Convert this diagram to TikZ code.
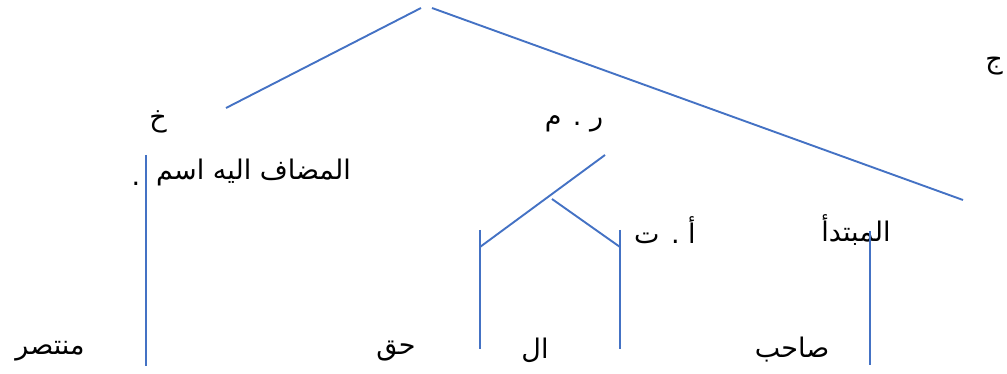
\documentclass[tikz,border=0pt]{standalone}
\usepackage{fontspec}
\TeXXeTstate=1
\newfontfamily\arabicfont[Script=Arabic]{DejaVu Sans}
\begin{document}
\begin{tikzpicture}[x=1pt,y=-1pt,
  branch/.style={draw={rgb,255:red,68;green,114;blue,196}, line width=1.9pt},
  word/.style={inner sep=0pt, font=\arabicfont\fontsize{27}{29}\selectfont}]
\useasboundingbox (0,0) rectangle (1007,374);
% text nodes
\node[word] (jim) at (994,66) {\beginR ج\endR};
\node[word] (kha) at (158,122) {\beginR خ\endR};
\node[word] (rm) at (574,124) {\beginR ر . م\endR};
\node[word, anchor=east] (mudaf) at (351,172) {\beginR المضاف اليه اسم\endR};
\node[word] (dot) at (136,184) {.};
\node[word] (at) at (665,230) {\beginR أ . ت\endR};
\node[word] (mubtada) at (856,230) {\beginR المبتدأ\endR};
\node[word] (muntasir) at (50,351) {\beginR منتصر\endR};
\node[word] (haqq) at (396,351) {\beginR حق\endR};
\node[word] (al) at (535,350) {\beginR ال\endR};
\node[word] (sahib) at (792,350) {\beginR صاحب\endR};
% connector end points
\coordinate (topL) at (421,8);
\coordinate (topR) at (432,8);
\coordinate (khaEnd) at (226,108);
\coordinate (jimEnd) at (963,200);
\coordinate (v1t) at (146,155);
\coordinate (v1b) at (146,366);
\coordinate (rmTop) at (605,155);
\coordinate (rmMid) at (552,199);
\coordinate (lJoin) at (480,247);
\coordinate (lTop) at (480,230);
\coordinate (lBot) at (480,349);
\coordinate (rJoin) at (620,247);
\coordinate (rTop) at (620,230);
\coordinate (rBot) at (620,349);
\coordinate (v4t) at (870,231);
\coordinate (v4b) at (870,365);
% branches
\draw[branch] (topL) -- (khaEnd);
\draw[branch] (topR) -- (jimEnd);
\draw[branch] (v1t) -- (v1b);
\draw[branch] (rmTop) -- (lJoin);
\draw[branch] (lTop) -- (lBot);
\draw[branch] (rmMid) -- (rJoin);
\draw[branch] (rTop) -- (rBot);
\draw[branch] (v4t) -- (v4b);
\end{tikzpicture}
\end{document}
